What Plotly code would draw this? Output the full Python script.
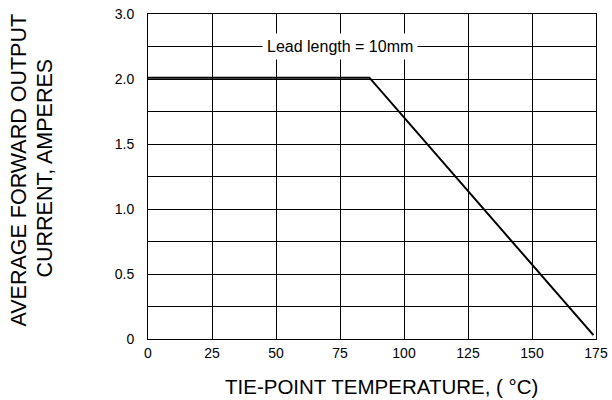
import plotly.graph_objects as go

# Data
temperature = [0, 86.5, 174]
current = [2.01, 2.01, 0.03]

x_ticks = [0, 25, 50, 75, 100, 125, 150, 175]
y_tickvals = [0, 0.5, 1.0, 1.5, 2.0, 2.5]
y_ticktext = ["0", "0.5", "1.0", "1.5", "2.0", "3.0"]

x_title = "TIE-POINT TEMPERATURE, ( °C)"
y_title_lines = ["AVERAGE FORWARD OUTPUT", "CURRENT, AMPERES"]
curve_label = "Lead length = 10mm"

FONT = "Liberation Sans, Arial, sans-serif"

fig = go.Figure()
fig.add_trace(go.Scatter(
    x=temperature, y=current, mode="lines",
    line=dict(color="black", width=2),
    showlegend=False, hoverinfo="skip",
))

fig.update_layout(
    template="none",
    width=612, height=400,
    margin=dict(l=148, r=16, t=14, b=61, autoexpand=False),
    paper_bgcolor="white", plot_bgcolor="white",
    font=dict(family=FONT, size=14, color="black"),
    showlegend=False,
)

fig.update_xaxes(
    range=[0, 175], tickvals=x_ticks, ticktext=[str(v) for v in x_ticks],
    showgrid=True, gridcolor="black", gridwidth=1,
    showline=True, linecolor="black", linewidth=1, mirror=True,
    zeroline=False, ticks="", tickfont=dict(size=14),
    ticklabelstandoff=1, automargin=False,
)
fig.update_yaxes(
    range=[0, 2.5], tickvals=y_tickvals, ticktext=y_ticktext,
    showgrid=True, gridcolor="black", gridwidth=1,
    minor=dict(dtick=0.25, tick0=0, showgrid=True, gridcolor="black", gridwidth=1),
    showline=True, linecolor="black", linewidth=1, mirror=True,
    zeroline=False, ticks="", tickfont=dict(size=14),
    ticklabelstandoff=10, automargin=False,
)

fig.add_annotation(
    x=75, y=2.25, xref="x", yref="y", text=curve_label, showarrow=False,
    font=dict(size=16, family=FONT, color="black"),
    bgcolor="white", borderpad=4, borderwidth=1, bordercolor="rgba(0,0,0,0)",
)
fig.add_annotation(
    x=(381.5 - 148) / 448, y=(339 - 386) / 325, xref="paper", yref="paper",
    text=x_title, showarrow=False, xanchor="center", yanchor="middle",
    font=dict(size=20.5, family=FONT, color="black"),
)
for px, py, line in [(18, 170.5, y_title_lines[0]), (44, 168.5, y_title_lines[1])]:
    fig.add_annotation(
        x=(px - 148) / 448, y=(339 - py) / 325, xref="paper", yref="paper",
        text=line, showarrow=False, xanchor="center", yanchor="middle",
        textangle=-90, font=dict(size=21.5, family=FONT, color="black"),
    )

fig.write_html(
    "out.html",
    config={"displayModeBar": False},
    post_script="document.body.style.margin='0';document.body.style.overflow='hidden';",
)
